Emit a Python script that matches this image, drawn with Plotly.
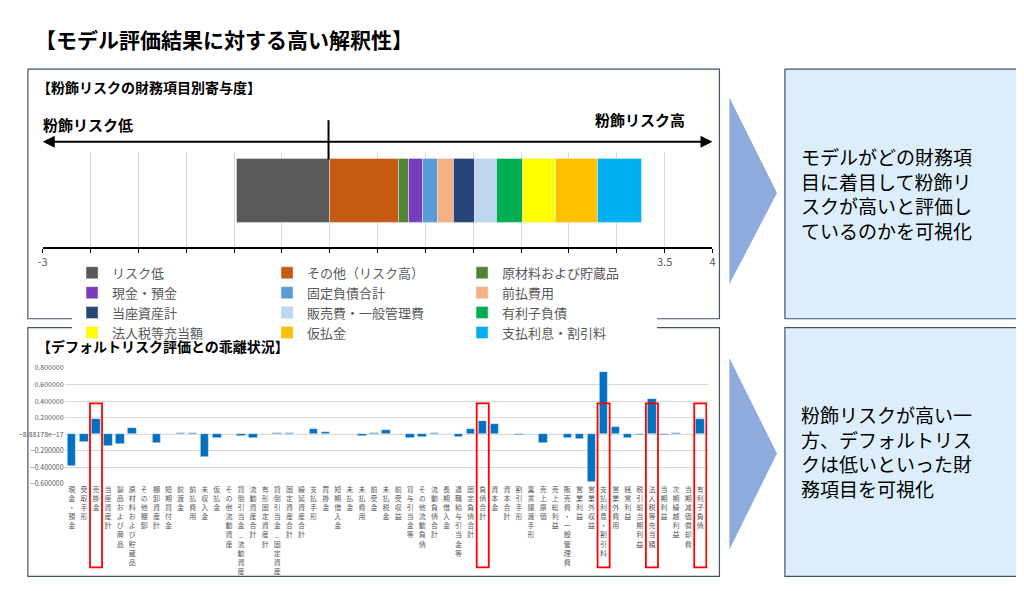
import plotly.graph_objects as go

# ---- top chart data (contribution by item) ----
top_items = ["リスク低", "その他（リスク高）", "原材料および貯蔵品", "現金・預金",
             "固定負債合計", "前払費用", "当座資産計", "販売費・一般管理費",
             "有利子負債", "法人税等充当額", "仮払金", "支払利息・割引料"]
top_values = [-0.97, 0.72, 0.11, 0.14, 0.16, 0.17, 0.22, 0.23, 0.27, 0.34, 0.44, 0.46]
top_colors = ["#595959", "#c55a11", "#548235", "#7b3bbf", "#5b9bd5", "#f4b183",
              "#264478", "#bdd7ee", "#00b050", "#ffff00", "#ffc000", "#00b0f0"]
top_ticks = [-3, -2.5, -2, -1.5, -1, -0.5, 0, 0.5, 1, 1.5, 2, 2.5, 3, 3.5, 4]

# ---- bottom chart data (gap vs default risk) ----
items = ["現金・預金", "受取手形", "売掛金", "当座資産計", "製品および商品", "原材料および貯蔵品",
         "その他棚卸", "棚卸資産計", "短期貸付金", "前渡金", "前払費用", "未収入金", "仮払金",
         "その他流動資産", "貸倒引当金_流動資産", "流動資産合計", "有形固定資産計",
         "貸倒引当金_固定資産", "固定資産合計", "繰延資産合計", "支払手形", "買掛金", "短期借入金",
         "未払金", "未払費用", "前受金", "未払税金", "前受収益", "賞与引当金等", "その他流動負債",
         "流動負債合計", "長期借入金", "退職給与引当金等", "固定負債合計", "負債合計", "資本金",
         "資本合計", "割引手形", "裏書譲渡手形", "売上原価", "売上総利益", "販売費・一般管理費",
         "営業利益", "営業外収益", "支払利息・割引料", "営業外費用", "経常利益", "税引前当期利益",
         "法人税等充当額", "当期利益", "次期繰越利益", "当期減価償却費", "有利子負債"]
gaps = [-0.38, -0.09, 0.18, -0.14, -0.12, 0.08, 0, -0.11, 0.005, 0.015, 0.02, -0.28, -0.04,
        0, -0.015, -0.04, 0, 0.01, 0.015, 0, 0.06, 0.03, 0, 0.005, -0.02, 0.02, 0.05,
        0, -0.05, -0.03, 0.02, 0, -0.03, 0.06, 0.16, 0.12, 0.005, -0.01, 0, -0.11, 0,
        -0.05, -0.06, -0.58, 0.75, 0.09, -0.04, -0.01, 0.42, -0.005, 0.02, 0, 0.18]
highlight = ["売掛金", "負債合計", "支払利息・割引料", "法人税等充当額", "有利子負債"]

FONT = "Noto Sans CJK JP"
W, H = 1024, 591
def px(x): return x / W
def py(y): return 1 - y / H

fig = go.Figure()
for name, v, c in zip(top_items, top_values, top_colors):
    fig.add_trace(go.Bar(x=[v], y=[0], orientation="h", name=name, marker_color=c,
                         width=0.67, xaxis="x", yaxis="y"))

fig.add_trace(go.Bar(x=list(range(len(items))), y=gaps, marker_color="#0070c0", width=0.7,
                     xaxis="x2", yaxis="y2", showlegend=False))

vert_labels = ["<br>".join(list(s)) for s in items]

fig.update_layout(
    width=W, height=H, margin=dict(l=0, r=0, t=0, b=0),
    paper_bgcolor="white", plot_bgcolor="white",
    barmode="relative", bargap=0, font=dict(family=FONT),
    xaxis=dict(domain=[px(30), px(705)], range=[-3, 4], tickvals=top_ticks,
               ticktext=[f"{t:g}" for t in top_ticks], showgrid=True, gridcolor="#d9d9d9",
               zeroline=False, showline=True, linecolor="black", linewidth=2,
               ticks="outside", ticklen=4, tickcolor="black",
               tickfont=dict(size=11, color="#595959", family=FONT)),
    yaxis=dict(domain=[py(237), py(140)], range=[-0.588, 0.412], visible=False),
    xaxis2=dict(domain=[px(52), px(700)], range=[-0.6, len(items) - 0.4],
                tickvals=list(range(len(items))), ticktext=vert_labels, tickangle=0,
                tickfont=dict(size=7, color="#595959"), showgrid=False, zeroline=False,
                anchor="y2"),
    yaxis2=dict(domain=[py(478), py(360)], range=[-0.6, 0.8], dtick=0.2, tickformat="g",
                gridcolor="#d9d9d9", zeroline=False, tickfont=dict(size=7, color="#595959"),
                anchor="x2"),
    legend=dict(orientation="h", x=px(82), y=py(248), xanchor="left", yanchor="top",
                entrywidth=150, font=dict(size=13, color="#595959"), traceorder="normal",
                itemclick=False),
)

shapes = [
    dict(type="rect", xref="paper", yref="paper", x0=px(15), x1=px(712), y0=py(310), y1=py(56),
         line=dict(color="#44546a", width=1.2)),
    dict(type="rect", xref="paper", yref="paper", x0=px(15), x1=px(712), y0=py(572), y1=py(319),
         line=dict(color="#44546a", width=1.2)),
    dict(type="rect", xref="paper", yref="paper", x0=px(778), x1=px(1012), y0=py(310), y1=py(56),
         fillcolor="#ddeefb", line=dict(color="#44546a", width=1.2), layer="below"),
    dict(type="rect", xref="paper", yref="paper", x0=px(778), x1=px(1012), y0=py(572), y1=py(319),
         fillcolor="#ddeefb", line=dict(color="#44546a", width=1.2), layer="below"),
    dict(type="path", xref="paper", yref="paper", fillcolor="#8faadc", line=dict(width=0),
         path=f"M {px(722)} {py(85)} L {px(770)} {py(182)} L {px(722)} {py(275)} Z"),
    dict(type="path", xref="paper", yref="paper", fillcolor="#8faadc", line=dict(width=0),
         path=f"M {px(722)} {py(350)} L {px(770)} {py(447)} L {px(722)} {py(545)} Z"),
    dict(type="line", xref="paper", yref="paper", x0=px(318), x1=px(318), y0=py(148), y1=py(108),
         line=dict(color="black", width=2)),
]
for name in highlight:
    i = items.index(name)
    shapes.append(dict(type="rect", xref="x2", yref="paper", x0=i - 0.5, x1=i + 0.5,
                       y0=py(563), y1=py(396), line=dict(color="#ff0000", width=1.8)))
fig.update_layout(shapes=shapes)

ann = [
    dict(x=px(20), y=py(25), text="<b>【モデル評価結果に対する高い解釈性】</b>", size=21,
         color="black"),
    dict(x=px(22), y=py(74), text="<b>【粉飾リスクの財務項目別寄与度】</b>", size=14,
         color="black"),
    dict(x=px(22), y=py(338), text="<b>【デフォルトリスク評価との乖離状況】</b>", size=14,
         color="black"),
    dict(x=px(28), y=py(112), text="<b>粉飾リスク低</b>", size=15, color="black"),
    dict(x=px(585), y=py(107), text="<b>粉飾リスク高</b>", size=15, color="black"),
    dict(x=px(792), y=py(183), text="モデルがどの財務項<br>目に着目して粉飾リ<br>スクが高いと評価し<br>ているのかを可視化",
         size=19, color="black"),
    dict(x=px(792), y=py(445), text="粉飾リスクが高い一<br>方、デフォルトリス<br>クは低いといった財<br>務項目を可視化",
         size=19, color="black"),
]
annotations = [dict(x=a["x"], y=a["y"], xref="paper", yref="paper", xanchor="left",
                    yanchor="middle", showarrow=False, align="left", text=a["text"],
                    font=dict(size=a["size"], color=a["color"], family=FONT)) for a in ann]
# double-headed arrow (tail offsets in pixels)
for x_to, ax in [(px(30), 288), (px(705), -387)]:
    annotations.append(dict(x=x_to, y=py(130), ax=ax, ay=0, xref="paper", yref="paper",
                            axref="pixel", ayref="pixel", text="", showarrow=True,
                            arrowhead=2, arrowsize=1.2, arrowwidth=2, arrowcolor="black"))
fig.update_layout(annotations=annotations)

fig.write_html("out.html")
